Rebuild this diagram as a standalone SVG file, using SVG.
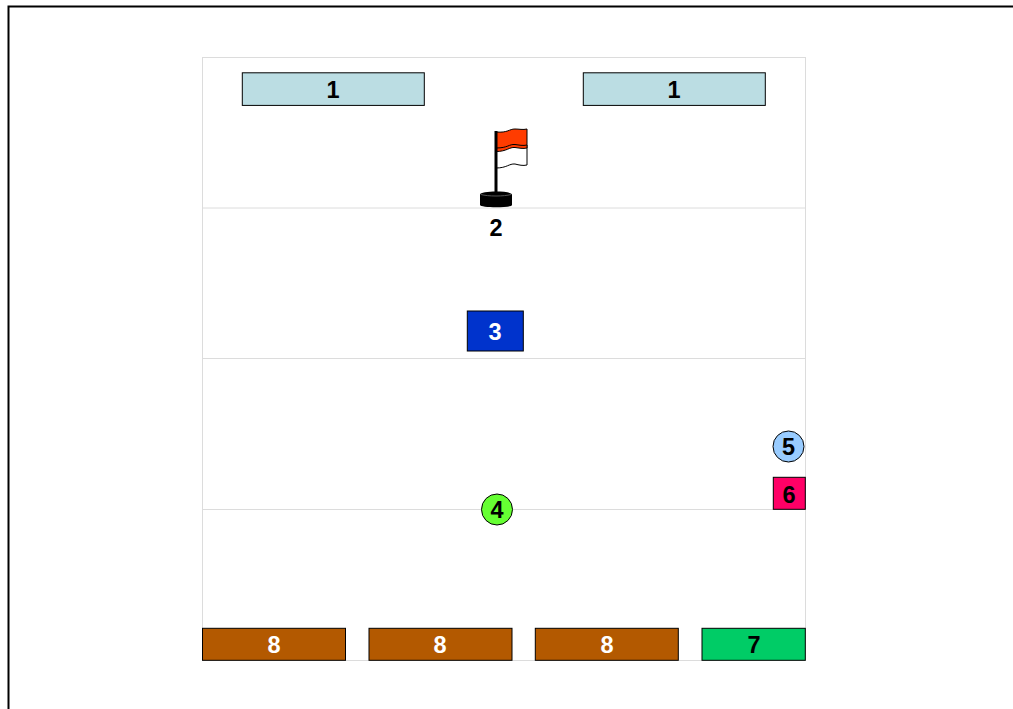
<svg xmlns="http://www.w3.org/2000/svg" width="1013" height="709" viewBox="0 0 1013 709">
<style>
.t{font-family:"Liberation Sans",Arial,sans-serif;font-size:23.5px;font-weight:bold;text-anchor:middle}
.k{fill:#000}.w{fill:#fff}
.b{stroke:#000;stroke-width:1}
.g{fill:none;stroke:#dcdcdc;stroke-width:1}
</style>
<rect width="1013" height="709" fill="#fff"/>
<path d="M8.500 709V6.500H1013" fill="none" stroke="#000" stroke-width="2"/>
<g id="field">
<rect class="g" x="202.500" y="57.500" width="603" height="603"/>
<path class="g" d="M203 208H805M203 358.500H805M203 509.500H805"/>
</g>
<g id="connectors"></g>
<g id="n1a"><rect class="b" x="242.300" y="72.800" width="182" height="32.600" fill="#bbdde3"/><text class="t k" x="333" y="98">1</text></g>
<g id="n1b"><rect class="b" x="583.300" y="72.800" width="182" height="32.600" fill="#bbdde3"/><text class="t k" x="674" y="98">1</text></g>
<g id="n2">
<path d="M496 148C508 148 509 144 515 144.500C519 145 523 146 527 145V165C523 166 519 165 515 164C509 163.500 507 168 496 168Z" fill="#fff" stroke="#000" stroke-width="1"/>
<path d="M496 132C508 133 509 129 515 129C519 129 523 130 527 129V148C523 149 519 148 515 147.500C509 147 507 151.500 496 151.500Z" fill="#ff3c00" stroke="#000" stroke-width="1"/>
<path d="M496 148C508 148 509 144 515 144.500C519 145 523 146 527 145" fill="none" stroke="#000" stroke-width="1"/>
<path d="M496 131V193" stroke="#000" stroke-width="3" fill="none"/>
<path d="M480 194.500C480 190.500 512 190.500 512 194.500V205C512 208 480 208 480 205Z" fill="#000"/>
<path d="M481 194.500C488 196.500 504 196.500 511 194.500" fill="none" stroke="#555" stroke-width="1"/>
<text class="t k" x="496" y="236">2</text>
</g>
<g id="n3"><rect class="b" x="467.300" y="311" width="56" height="40" fill="#0033cc"/><text class="t w" x="495" y="340">3</text></g>
<g id="n4"><circle class="b" cx="497" cy="509.500" r="15.500" fill="#66ff33"/><text class="t k" x="497" y="517.500">4</text></g>
<g id="n5"><circle class="b" cx="788.500" cy="446.500" r="15.500" fill="#99ccff"/><text class="t k" x="788.500" y="454.500">5</text></g>
<g id="n6"><rect class="b" x="773.300" y="477.300" width="32" height="32" fill="#ff0066"/><text class="t k" x="789" y="502.500">6</text></g>
<g id="n8a"><rect class="b" x="202.500" y="628.300" width="143" height="32" fill="#b35900"/><text class="t w" x="274" y="653">8</text></g>
<g id="n8b"><rect class="b" x="369" y="628.300" width="143" height="32" fill="#b35900"/><text class="t w" x="440" y="653">8</text></g>
<g id="n8c"><rect class="b" x="535.300" y="628.300" width="143" height="32" fill="#b35900"/><text class="t w" x="607" y="653">8</text></g>
<g id="n7"><rect class="b" x="702" y="628.300" width="103.300" height="32" fill="#00cc66"/><text class="t k" x="754" y="653">7</text></g>
</svg>
